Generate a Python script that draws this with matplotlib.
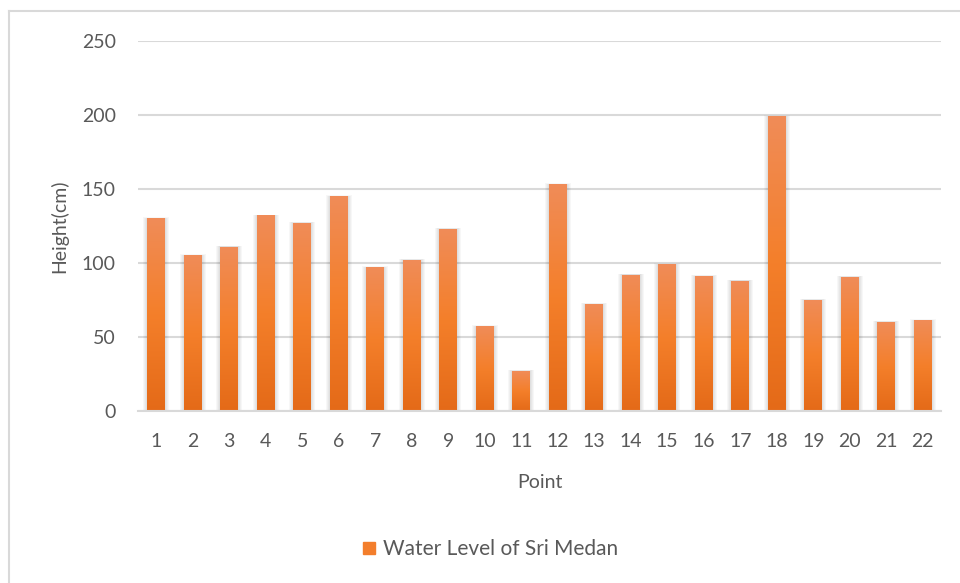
import numpy as np
import matplotlib.pyplot as plt
from matplotlib.patches import Rectangle
from matplotlib.colors import LinearSegmentedColormap
from matplotlib.lines import Line2D

plt.rcParams['font.family'] = ['Lato', 'DejaVu Sans']

points = [str(i) for i in range(1, 23)]
heights = [130, 105, 111, 132, 127, 145, 97, 102, 123, 57, 27, 153,
           72, 92, 99, 91, 88, 199, 75, 90.5, 60, 61]
series_name = 'Water Level of Sri Medan'
yticks = [0, 50, 100, 150, 200, 250]

text_color = '#595959'
grid_color = '#D9D9D9'
orange = '#F37E2C'
grad = LinearSegmentedColormap.from_list('bar', ['#E46A18', '#F47F2A', '#F08C58'])

fig = plt.figure(figsize=(9.6, 5.83), dpi=100)
ax = fig.add_axes([138 / 960, 1 - 410.7 / 583, (941 - 138) / 960, (410.7 - 41) / 583])

x = np.arange(len(points))
width = 0.49
bars = ax.bar(x, heights, width=width, color=orange, label=series_name, zorder=3)

# soft shadow + vertical gradient on each bar
g = np.linspace(0, 1, 256).reshape(-1, 1)
for b in bars:
    bx, bw, bh = b.get_x(), b.get_width(), b.get_height()
    for k in range(1, 5):
        pad = 0.028 * k
        ax.add_patch(Rectangle((bx - pad, 0), bw + 2 * pad, bh + pad * 6,
                               facecolor='black', alpha=0.03, lw=0, zorder=2))
    im = ax.imshow(g, cmap=grad, aspect='auto', origin='lower',
                   extent=(bx, bx + bw, 0, bh), zorder=4)
    im.set_clip_path(b)

ax.set_xlim(-0.5, len(points) - 0.5)
ax.set_ylim(0, 250)
ax.set_yticks(yticks)
ax.set_xticks(x)
ax.set_xticklabels(points)
ax.yaxis.grid(True, color=grid_color, lw=1.5, zorder=0)
ax.set_axisbelow(True)
for s in ['top', 'right', 'left']:
    ax.spines[s].set_visible(False)
ax.spines['bottom'].set_color(grid_color)
ax.spines['bottom'].set_linewidth(1.5)
ax.spines['bottom'].set_zorder(5)
ax.tick_params(axis='both', length=0, labelsize=14, labelcolor=text_color)
ax.tick_params(axis='y', pad=16)
ax.tick_params(axis='x', pad=16)

ax.set_ylabel('Height(cm)', fontsize=14, color=text_color, labelpad=10)
ax.set_xlabel('Point', fontsize=14, color=text_color, labelpad=17)

handle = Line2D([], [], marker='s', color='none', markerfacecolor=orange,
                markeredgecolor=orange, markersize=9)
fig.legend([handle], [series_name], loc='center', bbox_to_anchor=(0.51, 1 - 549 / 583),
           frameon=False, fontsize=15, labelcolor=text_color, handlelength=0.8,
           handletextpad=0.3)

# chart area border (left and top edges visible in the crop)
fig.add_artist(Line2D([9 / 960, 9 / 960], [0, 1 - 11 / 583], color=grid_color, lw=1.5))
fig.add_artist(Line2D([9 / 960, 1], [1 - 11 / 583, 1 - 11 / 583], color=grid_color, lw=1.5))

fig.savefig('out.png', dpi=100)
